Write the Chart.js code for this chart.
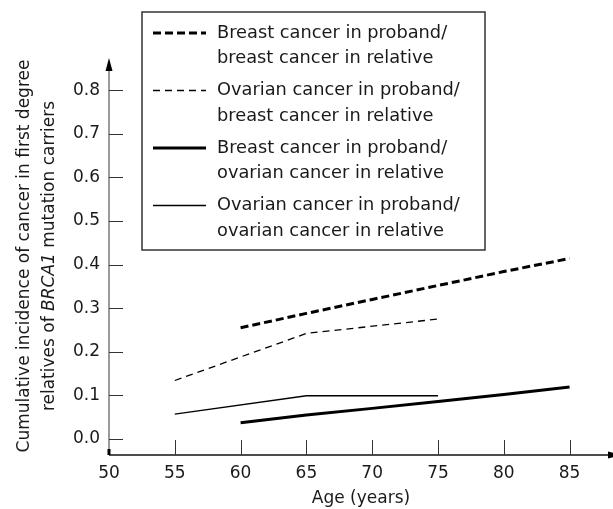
<!DOCTYPE html>
<html>
<head>
<meta charset="utf-8">
<script src="https://cdn.jsdelivr.net/npm/chart.js"></script>
<style>
  html, body { margin: 0; padding: 0; background: #fff; }
  #wrap { width: 613px; height: 509px; }
</style>
</head>
<body>
<div id="wrap"><canvas id="chart" width="613" height="509"></canvas></div>
<script>
// Data
const xTicks = [50, 55, 60, 65, 70, 75, 80, 85];
const yTicks = [0.0, 0.1, 0.2, 0.3, 0.4, 0.5, 0.6, 0.7, 0.8];

const agesBB = [60, 65, 70, 75, 80, 85];
const breastBreast = [0.255, 0.288, 0.320, 0.352, 0.384, 0.414];

const agesOB = [55, 60, 65, 75];
const ovarianBreast = [0.134, 0.188, 0.242, 0.275];

const agesBO = [60, 65, 70, 75, 80, 85];
const breastOvarian = [0.037, 0.055, 0.070, 0.086, 0.102, 0.119];

const agesOO = [55, 65, 75];
const ovarianOvarian = [0.057, 0.099, 0.099];

const legendLabels = [
    ['Breast cancer in proband/', 'breast cancer in relative'],
    ['Ovarian cancer in proband/', 'breast cancer in relative'],
    ['Breast cancer in proband/', 'ovarian cancer in relative'],
    ['Ovarian cancer in proband/', 'ovarian cancer in relative']
];

const FONT = '"DejaVu Sans", sans-serif';

function toPoints(xs, ys) {
    return xs.map((x, i) => ({ x: x, y: ys[i] }));
}

// Axes with inward ticks and arrow heads, plus the y title (BRCA1 in italics)
const axesDecor = {
    id: 'axesDecor',
    afterDraw(chart) {
        const ctx = chart.ctx;
        const xs = chart.scales.x;
        const ys = chart.scales.y;
        const area = chart.chartArea;
        ctx.save();

        // y axis
        ctx.strokeStyle = '#7a7a7a';
        ctx.lineWidth = 1.5;
        ctx.beginPath();
        ctx.moveTo(area.left, area.bottom);
        ctx.lineTo(area.left, area.top + 8);
        ctx.stroke();
        ctx.fillStyle = '#000';
        ctx.beginPath();
        ctx.moveTo(area.left, area.top - 4);
        ctx.lineTo(area.left - 3.5, area.top + 9);
        ctx.lineTo(area.left + 3.5, area.top + 9);
        ctx.closePath();
        ctx.fill();
        ctx.fillRect(area.left - 1.5, area.bottom - 6, 3, 6);

        // y ticks (pointing right)
        ctx.strokeStyle = '#333';
        ctx.lineWidth = 1;
        yTicks.forEach(v => {
            const y = Math.round(ys.getPixelForValue(v)) + 0.5;
            ctx.beginPath();
            ctx.moveTo(area.left, y);
            ctx.lineTo(area.left + 14, y);
            ctx.stroke();
        });

        // x axis
        ctx.strokeStyle = '#111';
        ctx.lineWidth = 1.5;
        ctx.beginPath();
        ctx.moveTo(area.left, area.bottom);
        ctx.lineTo(area.right - 4, area.bottom);
        ctx.stroke();
        ctx.fillStyle = '#000';
        ctx.beginPath();
        ctx.moveTo(area.right + 8, area.bottom);
        ctx.lineTo(area.right - 5, area.bottom - 3.5);
        ctx.lineTo(area.right - 5, area.bottom + 3.5);
        ctx.closePath();
        ctx.fill();

        // x ticks (pointing up)
        ctx.strokeStyle = '#333';
        ctx.lineWidth = 1;
        xTicks.forEach(v => {
            if (v === xs.min) return;
            const x = Math.round(xs.getPixelForValue(v)) + 0.5;
            ctx.beginPath();
            ctx.moveTo(x, area.bottom);
            ctx.lineTo(x, area.bottom - 15);
            ctx.stroke();
        });

        // y title, two rotated lines
        ctx.fillStyle = '#1a1a1a';
        ctx.textBaseline = 'middle';
        ctx.translate(0, 256);
        ctx.rotate(-Math.PI / 2);
        ctx.font = '17px ' + FONT;
        ctx.textAlign = 'center';
        ctx.fillText('Cumulative incidence of cancer in first degree', 0, 25);

        const parts = [
            { t: 'relatives of ', f: '17px ' + FONT },
            { t: 'BRCA1', f: 'italic 17px ' + FONT },
            { t: ' mutation carriers', f: '17px ' + FONT }
        ];
        let total = 0;
        parts.forEach(p => { ctx.font = p.f; p.w = ctx.measureText(p.t).width; total += p.w; });
        let px = -total / 2;
        ctx.textAlign = 'left';
        parts.forEach(p => {
            ctx.font = p.f;
            ctx.fillText(p.t, px, 50);
            px += p.w;
        });
        ctx.restore();
    }
};

// Boxed legend with two-line labels
const boxLegend = {
    id: 'boxLegend',
    afterDraw(chart) {
        const ctx = chart.ctx;
        ctx.save();
        ctx.strokeStyle = '#333';
        ctx.lineWidth = 1.5;
        ctx.strokeRect(142, 12, 343, 238);

        ctx.font = '17.8px ' + FONT;
        ctx.fillStyle = '#1a1a1a';
        ctx.textBaseline = 'middle';
        ctx.textAlign = 'left';
        chart.data.datasets.forEach((ds, i) => {
            const y = 33 + i * 57.5;
            ctx.strokeStyle = ds.borderColor;
            ctx.lineWidth = ds.borderWidth;
            ctx.setLineDash(ds.borderDash || []);
            ctx.beginPath();
            ctx.moveTo(153, y);
            ctx.lineTo(206, y);
            ctx.stroke();
            ctx.setLineDash([]);
            legendLabels[i].forEach((line, j) => {
                ctx.fillText(line, 217, y + j * 25.5);
            });
        });
        ctx.restore();
    }
};

const ctx = document.getElementById('chart').getContext('2d');
new Chart(ctx, {
    type: 'line',
    data: {
        datasets: [
            {
                label: legendLabels[0].join(' '),
                data: toPoints(agesBB, breastBreast),
                borderColor: '#000',
                borderWidth: 3,
                borderDash: [8, 4]
            },
            {
                label: legendLabels[1].join(' '),
                data: toPoints(agesOB, ovarianBreast),
                borderColor: '#000',
                borderWidth: 1.3,
                borderDash: [7, 5]
            },
            {
                label: legendLabels[2].join(' '),
                data: toPoints(agesBO, breastOvarian),
                borderColor: '#000',
                borderWidth: 3
            },
            {
                label: legendLabels[3].join(' '),
                data: toPoints(agesOO, ovarianOvarian),
                borderColor: '#000',
                borderWidth: 1.3
            }
        ]
    },
    options: {
        responsive: false,
        animation: false,
        events: [],
        layout: { padding: { left: 0, top: 62, right: 0, bottom: 0 } },
        elements: {
            point: { radius: 0 },
            line: { tension: 0, borderCapStyle: 'butt' }
        },
        plugins: {
            legend: { display: false },
            tooltip: { enabled: false }
        },
        scales: {
            x: {
                type: 'linear',
                min: 50,
                max: 88.3,
                afterFit: s => { s.height = 54; },
                afterBuildTicks: s => { s.ticks = xTicks.map(v => ({ value: v })); },
                grid: { display: false, drawTicks: false },
                border: { display: false },
                ticks: {
                    padding: 8,
                    color: '#1a1a1a',
                    font: { family: FONT, size: 17 },
                    maxRotation: 0,
                    callback: v => String(v)
                },
                title: {
                    display: true,
                    text: 'Age (years)',
                    color: '#1a1a1a',
                    font: { family: FONT, size: 17 },
                    padding: { top: 2, bottom: 0 }
                }
            },
            y: {
                min: -0.037,
                max: 0.865,
                afterFit: s => { s.width = 109; },
                afterBuildTicks: s => { s.ticks = yTicks.map(v => ({ value: v })); },
                grid: { display: false, drawTicks: false },
                border: { display: false },
                ticks: {
                    padding: 9,
                    color: '#1a1a1a',
                    font: { family: FONT, size: 17 },
                    callback: v => v.toFixed(1)
                }
            }
        }
    },
    plugins: [axesDecor, boxLegend]
});
</script>
</body>
</html>
